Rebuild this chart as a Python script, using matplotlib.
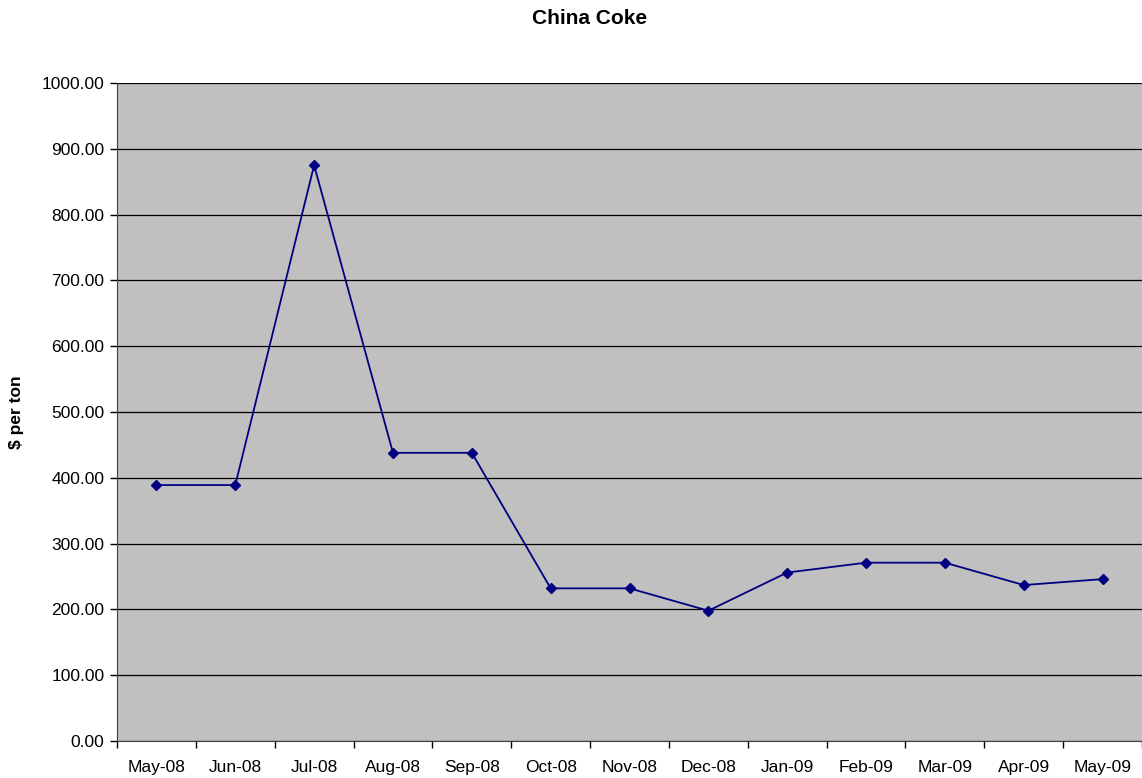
import numpy as np
import matplotlib
matplotlib.use("Agg")
import matplotlib.pyplot as plt

# ------------------------------
# Datos
# ------------------------------
months = ["May-08", "Jun-08", "Jul-08", "Aug-08", "Sep-08", "Oct-08", "Nov-08",
          "Dec-08", "Jan-09", "Feb-09", "Mar-09", "Apr-09", "May-09"]
price = [389, 389, 875, 438, 438, 232, 232, 198, 256, 271, 271, 237, 246]

plt.rcParams["font.family"] = ["Liberation Sans", "DejaVu Sans"]

fig = plt.figure(figsize=(11.42, 7.78), dpi=100)
ax = fig.add_axes([117 / 1142, 37 / 778, 1 - 117 / 1142, 658 / 778])
ax.set_facecolor("#C0C0C0")

x = np.arange(len(months))
ax.plot(x, price, color="#000080", lw=1.3, marker="D", ms=5.5, zorder=3)

# ejes
ax.set_xlim(-0.5, len(months) - 0.5)
ax.set_ylim(0, 1000)
ax.set_yticks(np.arange(0, 1001, 100))
ax.set_yticklabels([f"{v:.2f}" for v in range(0, 1001, 100)], fontsize=12.5)
ax.set_xticks(x)
ax.set_xticklabels(months, fontsize=12.5)
ax.tick_params(axis="x", which="major", length=0, pad=14)
ax.set_xticks(np.arange(-0.5, len(months)), minor=True)
ax.tick_params(axis="x", which="minor", length=5, width=1, direction="out")
ax.tick_params(axis="y", length=5, width=1, direction="out", pad=4)
ax.grid(axis="y", color="black", lw=0.9)
ax.set_axisbelow(True)

for s in ["top", "right"]:
    ax.spines[s].set_visible(False)
ax.spines["left"].set_color("#404040")
ax.spines["bottom"].set_color("#404040")

fig.text(590 / 1142, 1 - 18 / 778, "China Coke", fontsize=15, fontweight="bold",
         ha="center", va="center")
fig.text(17 / 1142, 1 - 412 / 778, "$ per ton", fontsize=12.5, fontweight="bold",
         rotation=90, ha="center", va="center")

plt.savefig("out.png", dpi=100)
